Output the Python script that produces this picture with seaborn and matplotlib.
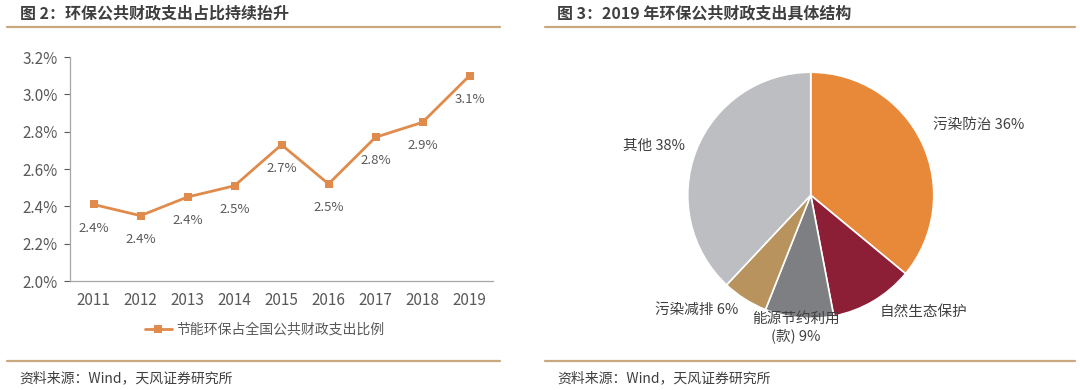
import matplotlib
matplotlib.use("Agg")
import matplotlib.pyplot as plt
from matplotlib.lines import Line2D
from matplotlib.ticker import FuncFormatter
import numpy as np
import pandas as pd
import seaborn as sns

# data
years = [2011, 2012, 2013, 2014, 2015, 2016, 2017, 2018, 2019]
share = [2.41, 2.35, 2.45, 2.51, 2.73, 2.52, 2.77, 2.85, 3.10]
share_labels = ["2.4%", "2.4%", "2.4%", "2.5%", "2.7%", "2.5%", "2.8%", "2.9%", "3.1%"]
series_name = "节能环保占全国公共财政支出比例"

pie_names = ["污染防治", "自然生态保护", "能源节约利用\n(款)", "污染减排", "其他"]
pie_values = [36, 11, 9, 6, 38]
pie_labels = ["污染防治 36%", "自然生态保护", "能源节约利用\n(款) 9%", "污染减排 6%", "其他 38%"]
pie_colors = ["#E8893A", "#8C1F36", "#7E7F83", "#B8935E", "#BDBEC2"]

sns.set_theme(style="white")
plt.rcParams["font.family"] = ["Noto Sans CJK SC", "DejaVu Sans"]

text_gray = "#595959"
rule_color = "#C9A880"
line_color = "#E08B4C"

fig = plt.figure(figsize=(10.8, 3.9), dpi=100)
fig.patch.set_facecolor("white")

# headers / footers
fig.text(20 / 1080, 1 - 13 / 390, "图 2：环保公共财政支出占比持续抬升", fontsize=11.5,
         fontweight="bold", color="#3F3F3F", va="center")
fig.text(557 / 1080, 1 - 13 / 390, "图 3：2019 年环保公共财政支出具体结构", fontsize=11.5,
         fontweight="bold", color="#3F3F3F", va="center")
for x0, x1 in [(7, 500), (545, 1075)]:
    for yy in (27, 361):
        fig.add_artist(Line2D([x0 / 1080, x1 / 1080], [1 - yy / 390, 1 - yy / 390],
                              color=rule_color, lw=1.6, transform=fig.transFigure))
    fig.text((x0 + 12) / 1080, 1 - 378 / 390, "资料来源：Wind，天风证券研究所",
             fontsize=10, color="#3F3F3F", va="center")

# line chart
ax = fig.add_axes([70 / 1080, 109 / 390, 423 / 1080, 224 / 390])
df = pd.DataFrame({"year": years, "share": share})
sns.lineplot(data=df, x="year", y="share", ax=ax, color=line_color, lw=2,
             marker="s", markersize=6, markeredgewidth=0, label=series_name)
for x, y, t in zip(years, share, share_labels):
    ax.annotate(t, (x, y), xytext=(0, -17), textcoords="offset points",
                ha="center", va="center", fontsize=9.5, color=text_gray)
ax.set_xlim(2010.5, 2019.5)
ax.set_ylim(2.0, 3.2)
ax.set_yticks(np.arange(2.0, 3.21, 0.2))
ax.yaxis.set_major_formatter(FuncFormatter(lambda v, p: f"{v:.1f}%"))
ax.set_xticks(years)
ax.set_xlabel("")
ax.set_ylabel("")
ax.tick_params(axis="y", labelsize=11, colors=text_gray, length=4, width=0.8,
               direction="out", left=True, pad=5)
ax.tick_params(axis="x", labelsize=11, colors=text_gray, length=0, pad=8)
for s in ["top", "right"]:
    ax.spines[s].set_visible(False)
for s in ["left", "bottom"]:
    ax.spines[s].set_color("#A6A6A6")
    ax.spines[s].set_linewidth(0.9)
leg = ax.legend(loc="upper center", bbox_to_anchor=(0.46, -0.13), frameon=False,
                fontsize=10, handlelength=2.0, handletextpad=0.3)
for t in leg.get_texts():
    t.set_color(text_gray)

# pie chart
pax = fig.add_axes([657 / 1080, 41 / 390, 307.5 / 1080, 307.5 / 390])
wedges, texts = pax.pie(pie_values, labels=pie_labels, colors=pie_colors,
                        startangle=90, counterclock=False, labeldistance=1.1,
                        wedgeprops=dict(edgecolor="white", linewidth=1.2),
                        textprops=dict(fontsize=10.5, color="#404040"))
texts[2].set_ha("center")
texts[2].set_va("top")
texts[2].set_position((-0.12, -0.95))
texts[0].set_position((texts[0].get_position()[0], 0.57))
pax.set_xlim(-1.25, 1.25)
pax.set_ylim(-1.25, 1.25)
pax.set_aspect("equal")

fig.savefig("out.png", dpi=100, facecolor="white")
